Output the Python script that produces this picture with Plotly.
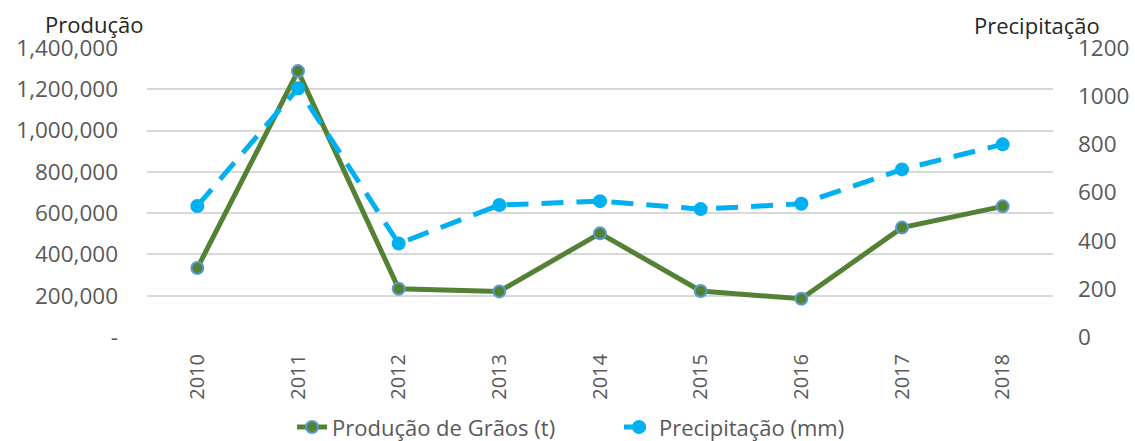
import plotly.graph_objects as go

years = ["2010", "2011", "2012", "2013", "2014", "2015", "2016", "2017", "2018"]
producao = [334000, 1288000, 234000, 221000, 502000, 223000, 185000, 530000, 633000]
precipitacao = [544, 1033, 388, 548, 564, 531, 553, 696, 800]

left_tickvals = [0, 200000, 400000, 600000, 800000, 1000000, 1200000, 1400000]
left_ticktext = ["-", "200,000", "400,000", "600,000", "800,000", "1,000,000", "1,200,000", "1,400,000"]
right_tickvals = [0, 200, 400, 600, 800, 1000, 1200]

FONT = "Open Sans"
GRAY = "#595959"

fig = go.Figure()
fig.add_trace(go.Scatter(
    x=list(range(len(years))), y=producao, name="Produção de Grãos (t)",
    mode="lines+markers",
    line=dict(color="#548235", width=5),
    marker=dict(size=12, color="#548235", line=dict(color="#5B9BD5", width=2)),
    yaxis="y",
))
fig.add_trace(go.Scatter(
    x=list(range(len(years))), y=precipitacao, name="Precipitação (mm)",
    mode="lines+markers",
    line=dict(color="#00B0F0", width=5, dash="22px,13px"),
    marker=dict(size=14, color="#00B0F0"),
    yaxis="y2",
))

fig.update_layout(
    width=1135, height=441,
    margin=dict(l=147, r=82, t=47.6, b=104.3, autoexpand=False),
    paper_bgcolor="white", plot_bgcolor="white",
    font=dict(family=FONT, size=22, color=GRAY),
    showlegend=True,
    legend=dict(orientation="h", x=(292 - 147) / 906, xanchor="left", y=-0.312, yanchor="middle",
                entrywidth=282, entrywidthmode="pixels",
                font=dict(size=22, color=GRAY), bgcolor="rgba(0,0,0,0)",
                itemclick=False),
    xaxis=dict(
        range=[-0.5, 8.5], tickmode="array", tickvals=list(range(len(years))), ticktext=years,
        tickangle=-90, showgrid=False, zeroline=False, showline=False,
        ticks="", ticklabelstandoff=12, tickfont=dict(size=20, color=GRAY), fixedrange=True,
    ),
    yaxis=dict(
        range=[0, 1400000], tickmode="array", tickvals=left_tickvals, ticktext=left_ticktext,
        showgrid=True, gridcolor="#D9D9D9", gridwidth=2, zeroline=False, showline=False,
        ticks="", ticklabelstandoff=28, tickfont=dict(size=22.5, color=GRAY),
    ),
    yaxis2=dict(
        range=[0, 1200], tickmode="array", tickvals=right_tickvals,
        overlaying="y", side="right", showgrid=False, zeroline=False, showline=False,
        ticks="", ticklabelstandoff=24, tickfont=dict(size=22.5, color=GRAY),
    ),
    annotations=[
        dict(text="Produção", xref="paper", yref="paper", x=(43 - 147) / 906, y=(336.7 - 24) / 289,
             xanchor="left", yanchor="middle", showarrow=False,
             font=dict(family=FONT, size=22, color="#262626")),
        dict(text="Precipitação", xref="paper", yref="paper", x=(1102 - 147) / 906, y=(336.7 - 25) / 289,
             xanchor="right", yanchor="middle", showarrow=False,
             font=dict(family=FONT, size=22, color="#262626")),
    ],
)

fig.write_html("out.html", config={"displayModeBar": False},
               post_script="document.body.style.margin='0';document.body.style.overflow='hidden';")
